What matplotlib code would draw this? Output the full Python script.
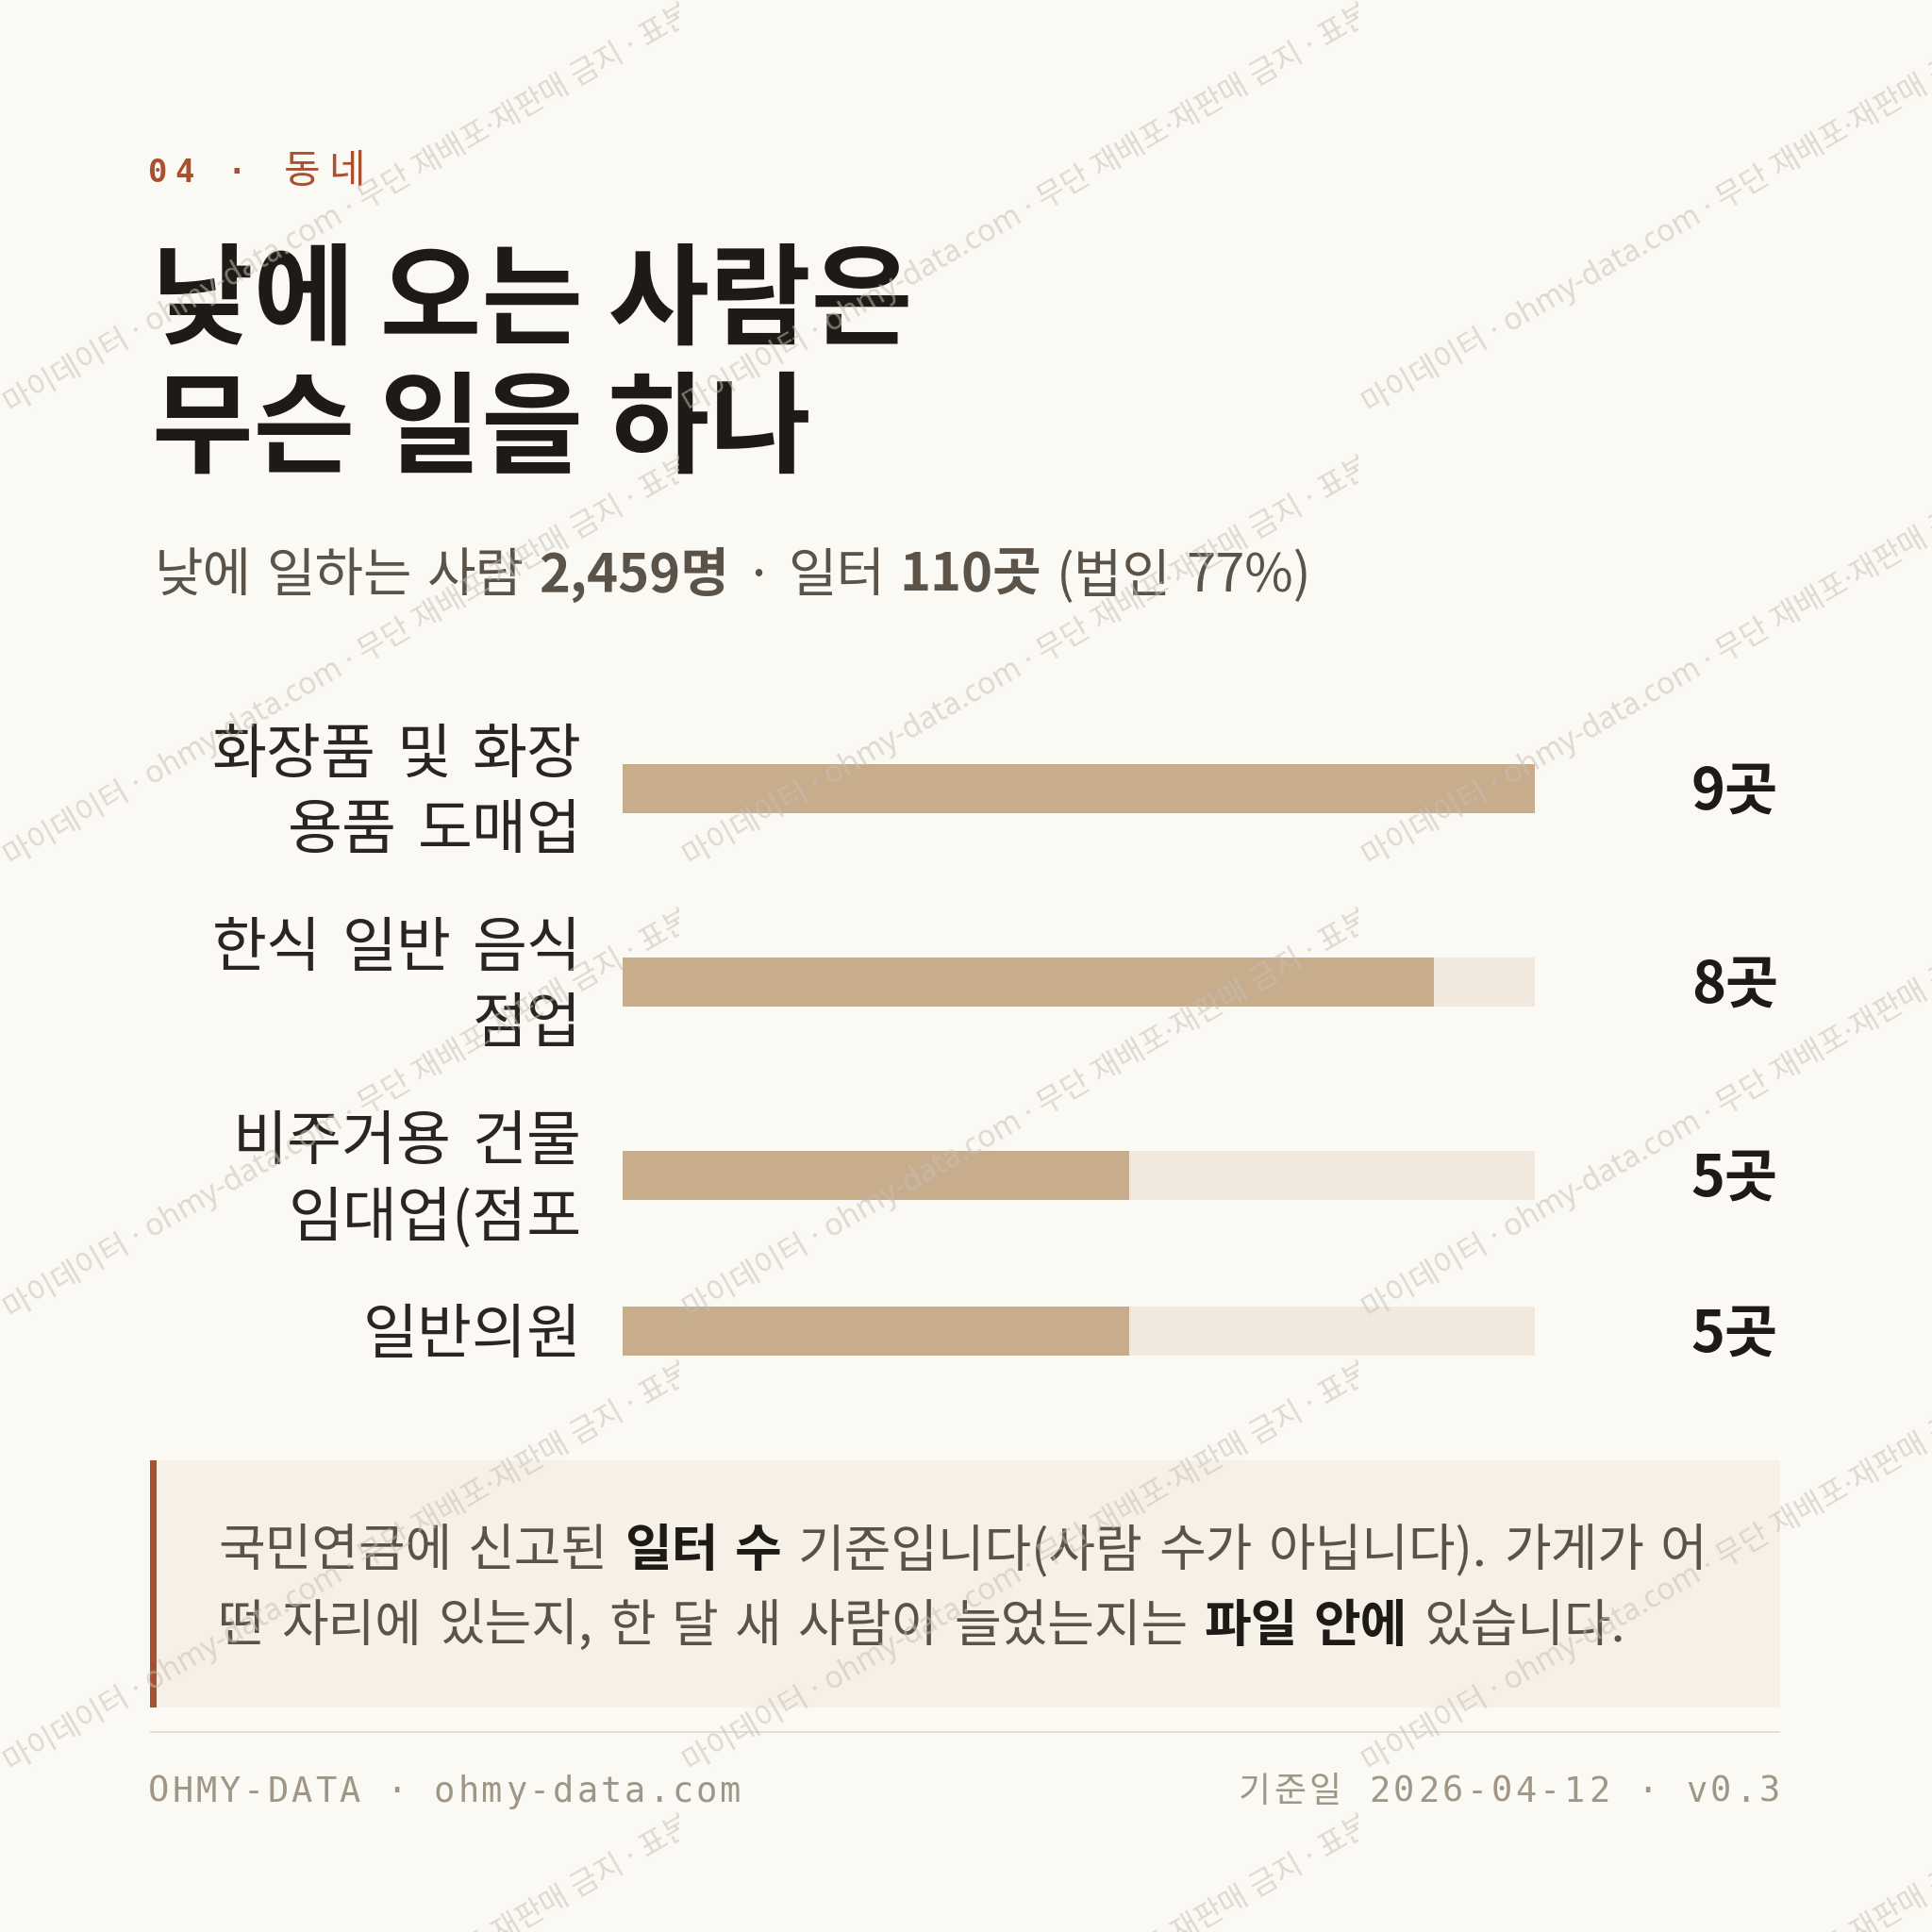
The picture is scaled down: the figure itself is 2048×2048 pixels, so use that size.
"""
Daytime workers by industry - card chart (ohmy-data style).
"""
import matplotlib
matplotlib.use("Agg")
import matplotlib.pyplot as plt
from matplotlib.patches import Rectangle
from matplotlib.transforms import Bbox

KR = ['Noto Sans CJK KR', 'DejaVu Sans']
MONO = ['DejaVu Sans Mono', 'Noto Sans CJK KR']
WM = ['Noto Sans', 'Noto Sans CJK KR']

# ---- data ----
categories = ["화장품 및 화장\n용품 도매업", "한식 일반 음식\n점업", "비주거용 건물\n임대업(점포", "일반의원"]
counts = [9, 8, 5, 5]
scale_max = 9
unit = "곳"

kicker_no = "04 · "
kicker_label = "동네"
title_lines = ["낮에 오는 사람은", "무슨 일을 하나"]
subtitle_runs = [("낮에 일하는 사람 ", False), ("2,459명", True), (" · 일터 ", False),
                 ("110곳", True), (" (법인 77%)", False)]
note_lines = [
    [("국민연금에 신고된 ", False), ("일터 수", True), (" 기준입니다(사람 수가 아닙니다). 가게가 어", False)],
    [("떤 자리에 있는지, 한 달 새 사람이 늘었는지는 ", False), ("파일 안에", True), (" 있습니다.", False)],
]
footer_left = "OHMY-DATA · ohmy-data.com"
footer_right = "기준일 2026-04-12 · v0.3"
watermark = "· 마이데이터 · ohmy-data.com · 무단 재배포·재판매 금지 · 표본 데이터 · 마이데이터"

# ---- colours ----
BG = '#FBF9F4'
RUST = '#A9502F'
INK = '#1E1A16'
SUB = '#5B5348'
LABEL = '#2A2521'
BAR = '#C8AD8D'
TRACK = '#F1E9DD'
NOTE_BG = '#F6F0E6'
FOOT = '#A09686'
SEP = '#E6DED2'

W = 2048
fig = plt.figure(figsize=(20.48, 20.48), dpi=100)
fig.patch.set_facecolor(BG)
ax = fig.add_axes([0, 0, 1, 1])
ax.set_xlim(0, W)
ax.set_ylim(W, 0)
ax.axis('off')
R = fig.canvas.get_renderer()


def pt(px):
    return px * 72 / 100


def width(s, **kw):
    t = ax.text(0, 0, s, **kw)
    w = t.get_window_extent(R).width
    t.remove()
    return w


def advance(s, **kw):
    return width("|" + s + "|", **kw) - width("||", **kw)


def draw_runs(x, y, runs, size, color, bcolor, space_extra=0):
    for s, bold in runs:
        kw = dict(fontsize=size, family=KR, fontweight='bold' if bold else 'normal')
        # widen word gaps a little, the reference font has wider spaces
        parts = s.split(" ")
        for i, p in enumerate(parts):
            if p:
                ax.text(x, y, p, color=bcolor if bold else color, ha='left', va='baseline', **kw)
                x += advance(p, **kw)
            if i < len(parts) - 1:
                x += advance(" ", **kw) + space_extra
    return x


def draw_tracked(x, y, s, track, ha='left', **kw):
    advs = [advance(c, **kw) for c in s]
    total = sum(advs) + track * (len(s) - 1)
    if ha == 'right':
        x -= total
    for c, a in zip(s, advs):
        if c != ' ':
            ax.text(x + a / 2, y, c, ha='center', va='baseline', **kw)
        x += a + track
    return x


# ---- kicker ----
x = draw_tracked(157, 193, kicker_no, 7.5, family=MONO, fontsize=pt(34),
                 fontweight='bold', color=RUST)
draw_tracked(x + 4, 194, kicker_label, 8, family=KR, fontsize=pt(42), color=RUST)

# ---- title ----
TITLE_EM = 117
ax.text(161, 356, title_lines[0], family=KR, fontsize=pt(TITLE_EM), fontweight='black',
        color=INK, ha='left', va='baseline')
ax.text(161, 492, title_lines[1], family=KR, fontsize=pt(TITLE_EM), fontweight='black',
        color=INK, ha='left', va='baseline')

# ---- subtitle ----
draw_runs(164, 627, subtitle_runs, pt(56), SUB, SUB, space_extra=3)

# ---- bars ----
LINE_H, GAP, TOP = 80, 45, 756
centers = []
y = TOP
for c in categories:
    h = (c.count("\n") + 1) * LINE_H
    centers.append(y + h / 2)
    y += h + GAP

ax_b = fig.add_axes([660 / W, 0, 967 / W, 1])
ax_b.set_xlim(0, scale_max)
ax_b.set_ylim(W, 0)
ax_b.axis('off')
ax_b.barh(centers, [scale_max] * len(counts), height=52, color=TRACK, linewidth=0)
ax_b.barh(centers, counts, height=52, color=BAR, linewidth=0)

label_em = 63
for c, v, yc in zip(categories, counts, centers):
    lines = c.split("\n")
    n = len(lines)
    for i, ln in enumerate(lines):
        ly = yc + (i - (n - 1) / 2) * LINE_H
        words = ln.split(" ")
        # right aligned, drawn word by word with wider gaps
        kw = dict(family=KR, fontsize=pt(label_em))
        gap = advance(" ", **kw) + 8
        xr = 617
        for wd in reversed(words):
            ax.text(xr, ly + 0.37 * label_em, wd, color=LABEL, ha='right', va='baseline', **kw)
            xr -= advance(wd, **kw) + gap
    ax.text(1885, yc + 22, f"{v}{unit}", family=KR, fontsize=pt(61), fontweight='bold',
            color=INK, ha='right', va='baseline')

# ---- note box ----
ax.add_patch(Rectangle((159, 1548), 1728, 262, facecolor=NOTE_BG, edgecolor='none'))
ax.add_patch(Rectangle((159, 1548), 7, 262, facecolor=RUST, edgecolor='none'))
draw_runs(231, 1660, note_lines[0], pt(54), SUB, INK, space_extra=5)
draw_runs(231, 1740, note_lines[1], pt(54), SUB, INK, space_extra=5)

# ---- footer ----
ax.plot([159, 1887], [1836, 1836], color=SEP, lw=pt(2), solid_capstyle='butt')
draw_tracked(157, 1910, footer_left, 3, family=MONO, fontsize=pt(37), color=FOOT)
draw_tracked(1887, 1910, footer_right, 3.6, ha='right', family=MONO, fontsize=pt(37), color=FOOT)

# ---- watermark tiles ----
ax_w = fig.add_axes([0, 0, 1, 1], zorder=10)
ax_w.set_xlim(0, W)
ax_w.set_ylim(W, 0)
ax_w.axis('off')
for x0 in (0, 720, 1440):
    for y0 in (0, 480, 960, 1440, 1920):
        t = ax_w.text(x0 - 3, y0 + 447, watermark, family=WM, fontsize=pt(32),
                      color='#C6C0B7', alpha=0.55, rotation=30, rotation_mode='anchor',
                      ha='left', va='baseline')
        t.set_clip_box(Bbox.from_extents(x0, W - (y0 + 480), x0 + 720, W - y0))
        t.set_clip_on(True)

fig.savefig('out.png', dpi=100, facecolor=BG)
